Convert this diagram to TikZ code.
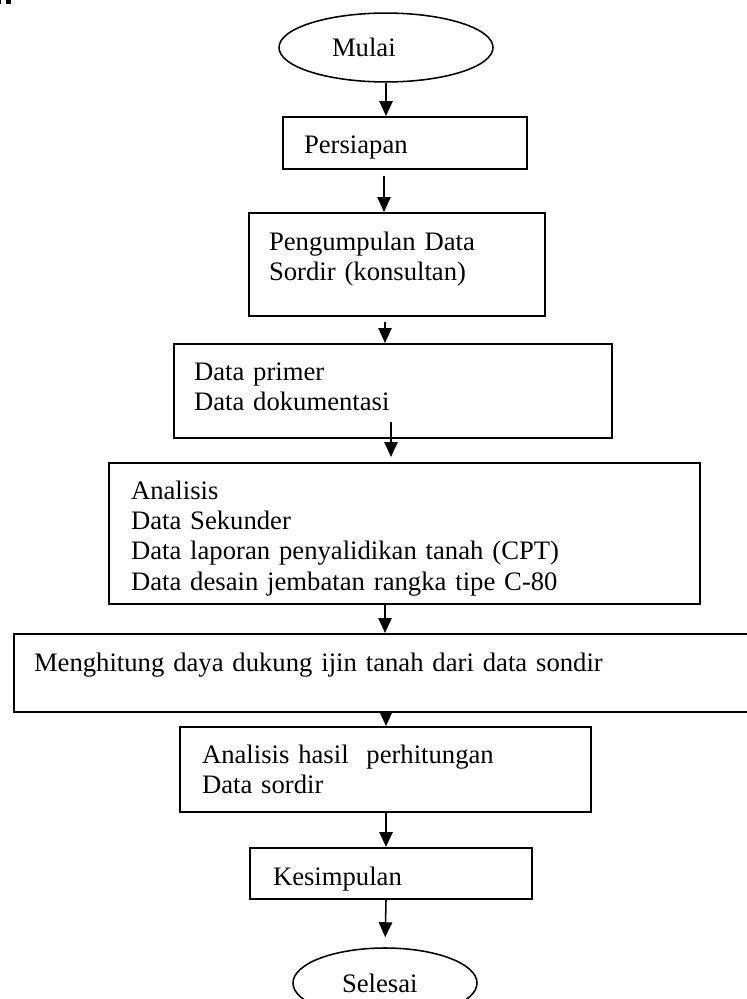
\documentclass[tikz,border=0pt]{standalone}
\usepackage{fontspec}
\setmainfont{Liberation Serif}
\usetikzlibrary{arrows.meta,shapes.geometric}
\tikzset{
  proc/.style = {draw, rectangle, line width=0.9pt, anchor=base west, align=left, inner ysep=0pt, font=\fontsize{12}{13.7}\selectfont},
  term/.style = {draw, ellipse, line width=0.7pt, align=left, inner sep=0pt, font=\fontsize{12}{13.7}\selectfont},
  flow/.style = {line width=0.7pt, -{Triangle[length=6.75pt,width=6pt]}}
}

\begin{document}
\begin{tikzpicture}[x=0.45pt,y=-0.45pt]
\useasboundingbox (0,0) rectangle (747,999);
\fill (0,0) rectangle (1,4);
\fill (6,0) rectangle (11,4);

\node [term, minimum width=96.3pt, minimum height=31pt, text width=48.6pt] (mulai) at (386,47.5) {Mulai};
\node [proc, inner xsep=9.45pt, text width=90.9pt, text height=16.2pt, text depth=7.2pt] (persiapan) at (282,153) {Persiapan};
\node [proc, inner xsep=9pt, text width=115.2pt, text height=16.65pt, text depth=29.7pt] (kumpul) at (248,250) {Pengumpulan Data\\Sordir (konsultan)};
\node [proc, inner xsep=9pt, text width=179.1pt, text height=16.2pt, text depth=26.1pt] (primer) at (173,380) {Data primer\\Data dokumentasi};
\node [proc, inner xsep=9.9pt, text width=246.15pt, text height=16.2pt, text depth=47.25pt] (analisis) at (108,499) {Analisis\\Data Sekunder\\Data laporan penyalidikan tanah (CPT)\\Data desain jembatan rangka tipe C-80};
\node [proc, inner xsep=9pt, text width=322.65pt, text height=16.65pt, text depth=18.45pt] (hitung) at (13,671) {Menghitung daya dukung ijin tanah dari data sondir};
\node [proc, inner xsep=9.9pt, text width=165.15pt, text height=16.2pt, text depth=22.05pt] (hasil) at (179,763) {Analisis hasil~ perhitungan\\Data sordir};
\node [proc, inner xsep=10.35pt, text width=106.2pt, text height=16.65pt, text depth=6.3pt] (kesimpulan) at (249,885) {Kesimpulan};
\node [term, minimum width=82.8pt, minimum height=31.5pt, text width=38.7pt] (selesai) at (385,983) {Selesai};

\coordinate (primer out) at (391,422);

\draw [flow] (mulai.south) -- (mulai.south |- persiapan.north);
\draw [flow, shorten <=2.7pt] (384,0 |- persiapan.south) -- (384,0 |- kumpul.north);
\draw [flow, shorten <=2.25pt] (385,0 |- kumpul.south) -- (385,0 |- primer.north);
\draw [flow, shorten >=2.25pt] (primer out) -- (primer out |- analisis.north);
\draw [flow] (385,0 |- analisis.south) -- (385,0 |- hitung.north);
\draw [flow] (386,0 |- hitung.south) -- (386,0 |- hasil.north);
\draw [flow] (386,0 |- hasil.south) -- (386,0 |- kesimpulan.north);
\draw [flow, shorten >=4.5pt] (386,0 |- kesimpulan.south) -- (selesai.north);
\end{tikzpicture}
\end{document}
